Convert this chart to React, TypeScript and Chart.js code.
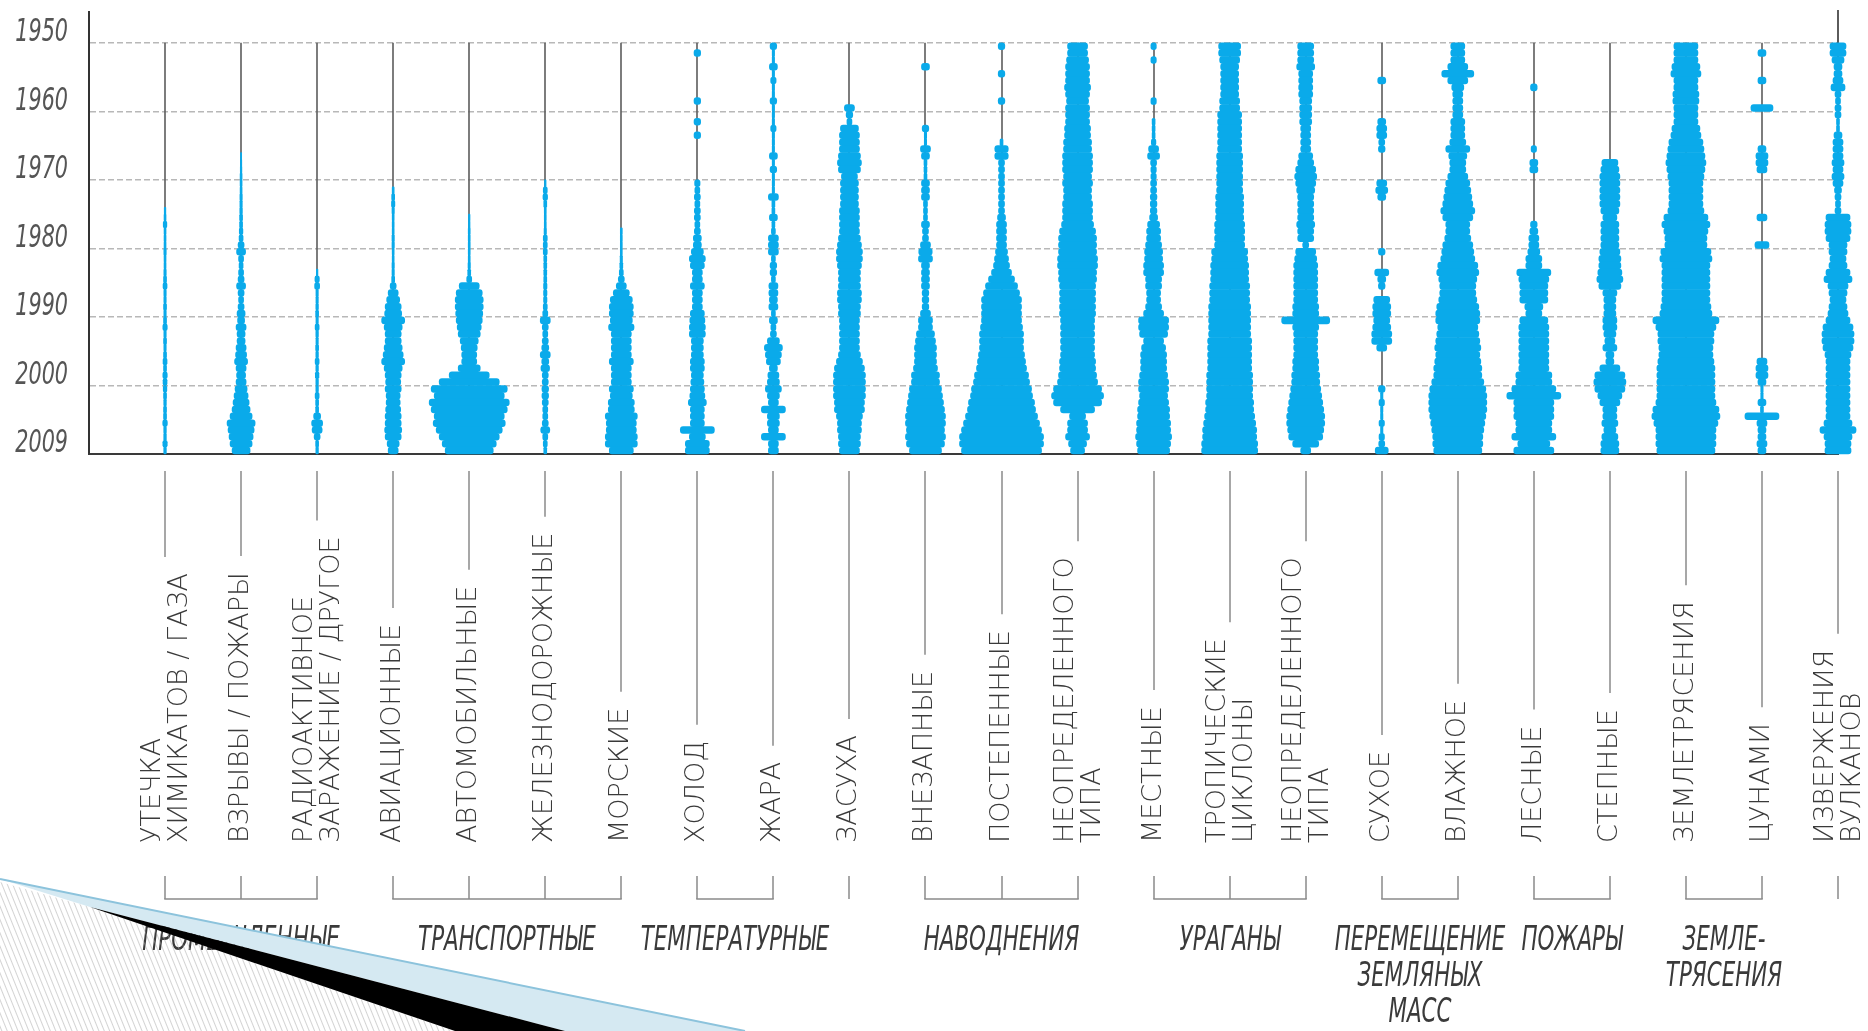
import React, { useEffect, useRef } from "react";
import { Chart, registerables } from "chart.js";

Chart.register(...registerables);

// ---------------- DATA ----------------
const FIRST_YEAR = 1950;
const LAST_YEAR_END = 2010;

const yTickValues = [1950, 1960, 1970, 1980, 1990, 2000, 2010];
const yTickLabels = ["1950", "1960", "1970", "1980", "1990", "2000", "2009"];

const categoryLabels: string[][] = [
  ["УТЕЧКА", "ХИМИКАТОВ / ГАЗА"],
  ["ВЗРЫВЫ / ПОЖАРЫ"],
  ["РАДИОАКТИВНОЕ", "ЗАРАЖЕНИЕ / ДРУГОЕ"],
  ["АВИАЦИОННЫЕ"],
  ["АВТОМОБИЛЬНЫЕ"],
  ["ЖЕЛЕЗНОДОРОЖНЫЕ"],
  ["МОРСКИЕ"],
  ["ХОЛОД"],
  ["ЖАРА"],
  ["ЗАСУХА"],
  ["ВНЕЗАПНЫЕ"],
  ["ПОСТЕПЕННЫЕ"],
  ["НЕОПРЕДЕЛЕННОГО", "ТИПА"],
  ["МЕСТНЫЕ"],
  ["ТРОПИЧЕСКИЕ", "ЦИКЛОНЫ"],
  ["НЕОПРЕДЕЛЕННОГО", "ТИПА"],
  ["СУХОЕ"],
  ["ВЛАЖНОЕ"],
  ["ЛЕСНЫЕ"],
  ["СТЕПНЫЕ"],
  ["ЗЕМЛЕТРЯСЕНИЯ"],
  ["ЦУНАМИ"],
  ["ИЗВЕРЖЕНИЯ", "ВУЛКАНОВ"],
];

// group label lines, first and last category (1-based)
const groupLabels: string[][] = [
  ["ПРОМЫШЛЕННЫЕ"],
  ["ТРАНСПОРТНЫЕ"],
  ["ТЕМПЕРАТУРНЫЕ"],
  [],
  ["НАВОДНЕНИЯ"],
  ["УРАГАНЫ"],
  ["ПЕРЕМЕЩЕНИЕ", "ЗЕМЛЯНЫХ", "МАСС"],
  ["ПОЖАРЫ"],
  ["ЗЕМЛЕ-", "ТРЯСЕНИЯ"],
  [],
];
const groupFrom = [1, 4, 8, 10, 11, 14, 17, 19, 21, 23];
const groupTo = [3, 7, 9, 10, 13, 16, 18, 20, 22, 23];

// yearly intensity (1950 … 2009), one row per decade
const chemicalLeak = [
  0, 0, 0, 0, 0, 0, 0, 0, 0, 0,
  0, 0, 0, 0, 0, 0, 0, 0, 0, 0,
  0, 0, 0, 0, 0.8, 1, 1.8, 1, 1, 1,
  1.2, 1, 1, 1.2, 1.5, 2, 1.2, 1.2, 1.5, 1.2,
  1.5, 2.2, 1.2, 1.5, 1.2, 1.5, 2, 1.5, 2.2, 2,
  1.8, 1.5, 1.3, 1.5, 1.5, 2.3, 1.3, 1.3, 2.2, 1.3,
];
const explosions = [
  0, 0, 0, 0, 0, 0, 0, 0, 0, 0,
  0, 0, 0, 0, 0, 0, 0.6, 0.7, 0.8, 1,
  1, 1, 1.2, 1.2, 1.3, 1.5, 1.5, 1.8, 2, 3,
  4.5, 2.5, 2, 2.5, 3, 4.5, 3, 2.5, 3, 4,
  3.5, 5, 4, 4, 5, 5.5, 6.5, 5, 4.5, 5,
  6, 7, 8, 9, 11, 14, 13, 12, 11, 9,
];
const radioactive = [
  0, 0, 0, 0, 0, 0, 0, 0, 0, 0,
  0, 0, 0, 0, 0, 0, 0, 0, 0, 0,
  0, 0, 0, 0, 0, 0, 0, 0, 0, 0,
  0, 0, 0, 0.8, 2.2, 2.5, 1.2, 1.2, 1.3, 1.5,
  1.2, 2, 1.3, 1.2, 1.5, 1.3, 2, 1.3, 1.8, 1.3,
  1.3, 2, 1.5, 1.5, 3.5, 5.5, 5, 3, 1.5, 1.3,
];
const aviation = [
  0, 0, 0, 0, 0, 0, 0, 0, 0, 0,
  0, 0, 0, 0, 0, 0, 0, 0, 0, 0,
  0, 1, 1.5, 1.7, 1.2, 1, 1, 1, 1.2, 1.2,
  1, 1, 1.2, 1.2, 1.5, 3, 5, 6.5, 8, 8.5,
  11.5, 9, 8, 8, 9, 10, 11.5, 9, 8, 7.5,
  8, 7, 7, 7.5, 8, 8, 8.5, 8, 6, 5,
];
const automobile = [
  0, 0, 0, 0, 0, 0, 0, 0, 0, 0,
  0, 0, 0, 0, 0, 0, 0, 0, 0, 0,
  0, 0, 0, 0, 0, 0.8, 0.8, 1, 1, 1,
  1, 1, 1.2, 1.5, 2.5, 10, 13, 14, 14, 13.5,
  13, 12, 11, 9, 8, 7.5, 7.5, 11, 20, 30,
  38, 35, 40, 38, 35, 36, 33, 30, 27, 24,
];
const railway = [
  0, 0, 0, 0, 0, 0, 0, 0, 0, 0,
  0, 0, 0, 0, 0, 0, 0, 0, 0, 0,
  0.8, 2, 2.3, 1.5, 1, 1, 1, 1.2, 2, 2,
  2, 1.5, 1.5, 1.5, 1.5, 1.7, 1.7, 1.7, 2, 2.5,
  5, 3, 2.5, 3, 3.5, 5, 3.5, 4.3, 3, 3,
  3.3, 3.3, 3, 2.5, 2.5, 3, 4.5, 2.5, 2, 1.5,
];
const maritime = [
  0, 0, 0, 0, 0, 0, 0, 0, 0, 0,
  0, 0, 0, 0, 0, 0, 0, 0, 0, 0,
  0, 0, 0, 0, 0, 0, 0, 1, 1, 1,
  1, 1.2, 1.5, 2, 3, 5, 8, 11, 12, 12,
  11, 12.7, 10, 10, 10, 10, 12, 10, 10, 10,
  12, 11, 13, 13, 16, 15, 15, 16, 16, 12,
];
const cold = [
  0, 3.3, 0, 0, 0, 0, 0, 0, 3.3, 0,
  0, 3.3, 0, 3.3, 0, 0, 0, 0, 0, 0,
  2.7, 2.5, 3, 2.5, 3, 3, 2.5, 3, 4, 4,
  6, 8, 7, 5, 5, 7, 5, 5, 5, 7,
  7.5, 8, 8, 6, 6, 6, 7, 7, 6, 6.5,
  7, 7.5, 9, 7, 7, 7, 17, 8, 12, 12,
];
const heat = [
  3.3, 1.2, 1.2, 4, 1.2, 2.7, 1.2, 1.2, 3.3, 1.2,
  1.2, 1.2, 2.7, 1.2, 1.2, 1.2, 4, 1.2, 3.3, 1.2,
  1.2, 1.2, 5, 1.5, 1.5, 4, 1.5, 2, 5, 5,
  5, 2, 3.3, 3.3, 2, 4.5, 4.5, 4, 4.5, 2,
  4, 2.5, 3, 6, 9, 8, 7, 4, 5.5, 6,
  8, 6, 5, 12, 6, 6, 5, 12, 5, 5,
];
const drought = [
  0, 0, 0, 0, 0, 0, 0, 0, 0, 5,
  3.3, 2.5, 9, 10, 10, 10, 11, 12, 11, 8,
  9, 9, 9, 9, 10, 10, 10, 10, 11, 12,
  13, 13, 12, 11, 11, 11, 12, 12, 11, 11,
  10, 10, 10, 10, 10, 11, 13, 15, 16, 16,
  16, 16, 15, 15, 13, 12, 12, 11, 11, 10,
];
const flashFlood = [
  0, 0, 0, 4, 0, 0, 0, 0, 0, 0,
  0, 0, 3.3, 1.2, 1.2, 5, 4, 1.5, 1.5, 1.5,
  4, 4, 4, 2, 2, 2, 4, 3, 3, 5,
  6.7, 7, 4, 4, 4, 4, 3.3, 3.3, 3.3, 5,
  7, 7, 9, 10, 11, 11, 11, 12, 14, 14,
  16, 17, 18, 19, 20, 20, 19, 20, 19, 16,
];
const gradualFlood = [
  3.3, 0, 0, 0, 3.3, 0, 0, 0, 3.3, 0,
  0, 0, 0, 0, 1.5, 6.7, 6.7, 3, 3, 3,
  3, 3, 3, 3, 3, 4, 5, 5, 5, 5,
  6, 7, 8, 10, 13, 16, 18, 20, 20, 20,
  20, 21, 22, 22, 22, 23, 24, 25, 27, 28,
  30, 31, 33, 34, 36, 38, 40, 42, 42, 40,
];
const otherFlood = [
  10, 10, 11, 12, 12, 12, 13, 12, 11, 12,
  12, 12, 13, 13, 14, 14, 15, 15, 15, 14,
  15, 14, 14, 15, 15, 15, 16, 18, 19, 19,
  19, 20, 20, 19, 19, 18, 18, 18, 18, 18,
  17, 17, 17, 17, 17, 17, 18, 18, 19, 20,
  24, 26, 24, 17, 8, 10, 10, 12, 9, 7,
];
const localStorm = [
  2.7, 0, 2.7, 0, 0, 0, 0, 0, 2.7, 0,
  0, 1.5, 1.5, 1.5, 2.3, 5, 6, 3, 2.7, 2.7,
  3, 3, 3.3, 3.3, 3.3, 4, 6, 7, 7, 8,
  9, 9, 10, 10, 8, 8, 7, 7, 8, 10,
  15, 15, 14, 10, 12, 13, 13, 13, 14, 15,
  15, 14, 15, 16, 16, 17, 17, 18, 17, 16,
];
const tropicalCyclone = [
  11, 11, 10, 9, 9, 9, 9, 9, 10, 10,
  12, 12, 12, 12, 12, 12, 13, 13, 13, 13,
  13, 13, 14, 14, 14, 14, 15, 15, 15, 15,
  18, 18, 19, 19, 19, 20, 20, 20, 21, 21,
  21, 21, 21, 22, 22, 22, 22, 22, 23, 23,
  23, 23, 24, 24, 25, 26, 27, 27, 28, 28,
];
const otherStorm = [
  8, 8, 8, 9, 7, 7, 7, 7, 6, 6,
  6, 6, 5, 5, 5, 5, 7, 8, 10, 11,
  10, 9, 8, 8, 8, 8, 9, 8, 8, 3,
  10, 11, 12, 12, 12, 12, 12, 12, 13, 13,
  24, 13, 12, 12, 12, 12, 13, 13, 14, 14,
  15, 16, 17, 18, 19, 19, 18, 17, 13, 5,
];
const dryMass = [
  0, 0, 0, 0, 0, 4, 0, 0, 0, 0,
  0, 4, 5, 5, 3, 3.3, 0, 0, 0, 0,
  5, 6, 4, 0, 0, 0, 0, 0, 0, 0,
  3.3, 0, 0, 7, 4, 3.3, 0, 8, 9, 9,
  8, 9, 10, 10, 5, 0, 0, 0, 0, 0,
  3.3, 1.2, 2.7, 1.2, 1.2, 2.7, 1.2, 2.7, 3, 6.5,
];
const wetMass = [
  7, 7, 7, 10, 16, 10, 6, 5, 5, 5,
  5, 7, 7, 7, 8, 12, 9, 8, 8, 10,
  12, 13, 14, 15, 17, 15, 12, 12, 13, 15,
  16, 17, 20, 21, 19, 18, 18, 19, 21, 22,
  22, 20, 21, 22, 23, 22, 23, 24, 24, 26,
  28, 29, 29, 29, 28, 27, 26, 25, 25, 24,
];
const forestFire = [
  0, 0, 0, 0, 0, 0, 3.3, 0, 0, 0,
  0, 0, 0, 0, 0, 2.7, 0, 4, 4, 0,
  0, 0, 0, 0, 0, 0, 3.3, 4, 5, 5,
  6, 8, 8, 17, 15, 14, 14, 14, 9, 8,
  14, 15, 15, 15, 15, 15, 15, 15, 18, 18,
  22, 27, 20, 20, 20, 18, 18, 22, 16, 20,
];
const steppeFire = [
  0, 0, 0, 0, 0, 0, 0, 0, 0, 0,
  0, 0, 0, 0, 0, 0, 0, 8, 9, 10,
  10, 10, 10, 10, 9, 7, 9, 9, 9, 9,
  10, 11, 11, 12, 13, 11, 7, 6, 6, 6,
  7, 7, 6, 5, 7, 4, 4, 10, 15, 16,
  15, 12, 10, 7, 7, 8, 6, 8, 9, 9,
];
const earthquake = [
  12, 12, 12, 14, 15, 12, 12, 13, 13, 12,
  12, 12, 14, 15, 17, 18, 19, 20, 19, 18,
  17, 17, 17, 17, 18, 22, 24, 22, 21, 21,
  25, 26, 24, 24, 24, 24, 24, 24, 25, 26,
  33, 30, 28, 28, 27, 27, 28, 29, 29, 29,
  29, 29, 30, 33, 34, 32, 30, 30, 30, 29,
];
const tsunami = [
  0, 4, 0, 0, 0, 4, 0, 0, 0, 11,
  0, 0, 0, 0, 0, 4, 6, 6, 5, 0,
  0, 0, 0, 0, 0, 5, 0, 0, 0, 7,
  0, 0, 0, 0, 0, 0, 0, 0, 0, 0,
  0, 0, 0, 0, 0, 0, 5, 6, 6, 4,
  1.2, 1.2, 4, 1.5, 17, 5, 4, 4, 5, 4,
];
const volcano = [
  8, 8, 6, 4, 4, 5, 7, 3, 2.5, 3,
  3, 1.5, 1.5, 4, 5, 5, 5, 6, 5, 6,
  5, 3.5, 3, 2.5, 3, 12, 13, 13, 12, 9,
  9, 8, 9, 12, 14, 10, 9, 8, 9, 10,
  12, 15, 16, 16, 15, 13, 12, 12, 12, 12,
  12, 12, 12, 12, 12, 14, 18, 14, 13, 13,
];

const series = [
  chemicalLeak, explosions, radioactive, aviation, automobile, railway, maritime,
  cold, heat, drought, flashFlood, gradualFlood, otherFlood, localStorm,
  tropicalCyclone, otherStorm, dryMass, wetMass, forestFire, steppeFire,
  earthquake, tsunami, volcano,
];

// ---------------- STYLE ----------------
const BLUE = "#0aaaea";
const WIDTH_PER_UNIT = 1 / 76; // x-axis units per intensity unit (each side)
const LABEL_FONT = '200 27px "DejaVu Sans", sans-serif';
const CONDENSED = '"Liberation Sans Narrow", "DejaVu Sans Condensed", "Liberation Sans", sans-serif';
const GROUP_FONT = `italic 34px ${CONDENSED}`;
const YTICK_FONT = `italic 32px ${CONDENSED}`;

const decorations = {
  id: "decorations",
  beforeDatasetsDraw(chart: any) {
    const { ctx, scales } = chart;
    const x = scales.x;
    const y = scales.y;
    const n = series.length;
    ctx.save();
    for (let i = 1; i <= n; i++) {
      const px = Math.round(x.getPixelForValue(i));
      const top = i === n ? y.top - 2 : y.getPixelForValue(FIRST_YEAR);
      ctx.strokeStyle = i === n ? "#333" : "#5c5c5c";
      ctx.lineWidth = 1.6;
      ctx.beginPath();
      ctx.moveTo(px, top);
      ctx.lineTo(px, y.getPixelForValue(LAST_YEAR_END));
      ctx.stroke();
    }
    ctx.restore();
  },
  afterDraw(chart: any) {
    const { ctx, scales } = chart;
    const x = scales.x;
    const y = scales.y;
    const base = y.bottom;
    const tickTop = base + 17;
    const textStart = base + 389;
    const bracketTop = base + 422;
    const bracketY = base + 445;
    const groupY = base + 487;
    const groupLine = 36;

    ctx.save();
    // y tick labels (condensed italic)
    ctx.font = YTICK_FONT;
    ctx.fillStyle = "#555";
    yTickValues.forEach((v, k) => {
      ctx.save();
      ctx.translate(y.left + y.width - 21, y.getPixelForValue(v) - 10);
      ctx.scale(0.72, 1);
      ctx.textAlign = "right";
      ctx.textBaseline = "middle";
      ctx.fillText(yTickLabels[k], 0, 0);
      ctx.restore();
    });

    ctx.font = LABEL_FONT;
    ctx.fillStyle = "#3a3a3a";
    ctx.strokeStyle = "#8a8a8a";
    ctx.lineWidth = 1.5;
    categoryLabels.forEach((lines, i) => {
      const px = Math.round(x.getPixelForValue(i + 1));
      const maxLen = Math.max(...lines.map((l) => ctx.measureText(l).width));
      ctx.beginPath();
      ctx.moveTo(px, tickTop);
      ctx.lineTo(px, textStart - maxLen - 16);
      ctx.stroke();
      const offsets = lines.length === 1 ? [0] : [-12, 15];
      lines.forEach((l, k) => {
        ctx.save();
        ctx.translate(px + offsets[k], textStart);
        ctx.rotate(-Math.PI / 2);
        ctx.textAlign = "left";
        ctx.textBaseline = "middle";
        ctx.fillText(l, 0, 0);
        ctx.restore();
      });
      ctx.beginPath();
      ctx.moveTo(px, bracketTop);
      ctx.lineTo(px, bracketY);
      ctx.stroke();
    });

    ctx.font = GROUP_FONT;
    groupLabels.forEach((lines, g) => {
      const x1 = Math.round(x.getPixelForValue(groupFrom[g]));
      const x2 = Math.round(x.getPixelForValue(groupTo[g]));
      if (x2 > x1) {
        ctx.beginPath();
        ctx.moveTo(x1 - 0.75, bracketY);
        ctx.lineTo(x2 + 0.75, bracketY);
        ctx.stroke();
      }
      const cx = (x1 + x2) / 2;
      lines.forEach((l, k) => {
        ctx.save();
        ctx.translate(cx, groupY + k * groupLine);
        ctx.scale(0.7, 1);
        ctx.textAlign = "center";
        ctx.textBaseline = "middle";
        ctx.fillText(l, 0, 0);
        ctx.restore();
      });
    });
    ctx.restore();
  },
};

export default function App() {
  const canvasRef = useRef<HTMLCanvasElement | null>(null);

  useEffect(() => {
    const canvas = canvasRef.current;
    if (!canvas) return;
    const bars: any[] = [];
    series.forEach((vals, ci) => {
      vals.forEach((v, yi) => {
        if (v > 0) {
          const c = ci + 1;
          bars.push({
            y: FIRST_YEAR + yi + 0.5,
            x: [c - v * WIDTH_PER_UNIT, c + v * WIDTH_PER_UNIT],
          });
        }
      });
    });

    const chart = new Chart(canvas, {
      type: "bar",
      data: {
        datasets: [
          {
            data: bars,
            backgroundColor: BLUE,
            borderWidth: 0,
            borderRadius: 3,
            borderSkipped: false,
            barPercentage: 1,
            categoryPercentage: 1,
            grouped: false,
            clip: false,
          } as any,
        ],
      },
      options: {
        indexAxis: "y",
        animation: false,
        responsive: false,
        events: [],
        layout: { padding: { top: 12, right: 30, left: 0, bottom: 0 } },
        plugins: { legend: { display: false }, tooltip: { enabled: false } },
        scales: {
          x: {
            type: "linear",
            position: "bottom",
            min: 0,
            max: series.length,
            offset: false,
            ticks: { display: false },
            grid: { display: false, offset: false },
            border: { display: true, color: "#3a3a3a", width: 2 },
            afterFit(s: any) {
              s.height = 577;
            },
          },
          y: {
            type: "linear",
            position: "left",
            reverse: true,
            offset: false,
            min: 1945.5,
            max: LAST_YEAR_END,
            afterBuildTicks(s: any) {
              s.ticks = yTickValues.map((v) => ({ value: v }));
            },
            ticks: { display: false, autoSkip: false },
            grid: {
              offset: false,
              color: (c: any) => (c.tick && c.tick.value === LAST_YEAR_END ? "rgba(0,0,0,0)" : "#b8b8b8"),
              lineWidth: 1.5,
              drawTicks: false,
            },
            border: { display: true, color: "#333", width: 2, dash: [6, 3] },
            afterFit(s: any) {
              s.width = 89;
            },
          },
        },
      } as any,
      plugins: [decorations],
    });
    return () => chart.destroy();
  }, []);

  return (
    <div style={{ position: "fixed", left: 0, top: 0, width: 1868, height: 1031, background: "#fff" }}>
      <canvas ref={canvasRef} width={1868} height={1031} style={{ display: "block" }} />
      <svg
        width={1868}
        height={1031}
        style={{ position: "absolute", left: 0, top: 0, pointerEvents: "none" }}
      >
        <defs>
          <pattern id="hatch" width="5" height="10" patternUnits="userSpaceOnUse" patternTransform="rotate(-22)">
            <line x1="0" y1="0" x2="0" y2="10" stroke="#a8a8a8" strokeWidth="1" />
          </pattern>
        </defs>
        <polygon points="0,882 90,907 455,1031 0,1031" fill="url(#hatch)" />
        <polygon points="0,879 745,1031 565,1031 90,907" fill="#d5e9f2" />
        <line x1="0" y1="879" x2="745" y2="1031" stroke="#8cc3dc" strokeWidth="2" />
        <polygon points="90,907 565,1031 455,1031" fill="#000" />
      </svg>
    </div>
  );
}
